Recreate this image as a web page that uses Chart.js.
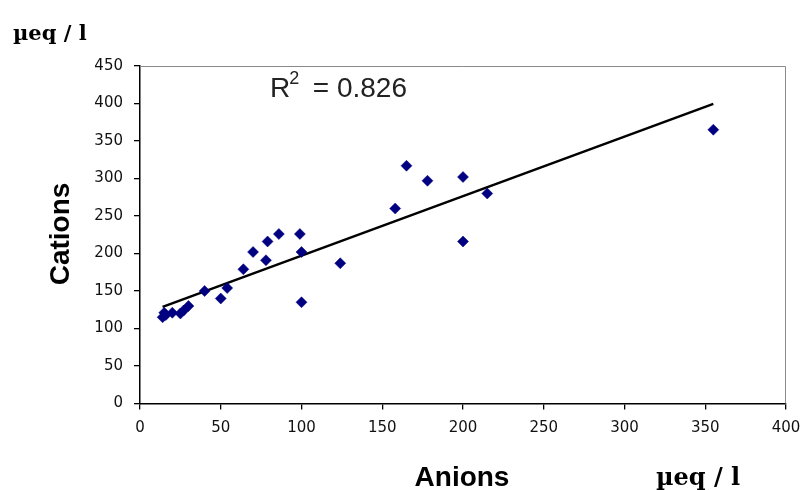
<!DOCTYPE html>
<html>
<head>
<meta charset="utf-8">
<script src="https://cdn.jsdelivr.net/npm/chart.js@4"></script>
<style>
  html, body { margin: 0; padding: 0; background: #fff; }
  #wrap { width: 803px; height: 490px; }
</style>
</head>
<body>
<div id="wrap"><canvas id="chart" width="803" height="490"></canvas></div>
<script>
// Anions vs cations (µeq / l)
const anions = [355, 165, 178, 200, 158, 215, 200, 124, 99, 86, 79, 70, 78, 100, 64, 40, 50, 54, 100, 30, 27, 25, 20, 15, 14, 16];
const cations = [365, 317, 297, 302, 260, 280, 216, 187, 226, 226, 216, 202, 191, 202, 179, 150, 140, 154, 135, 130, 124, 120, 121, 121, 115, 118];
const xTicks = [0, 50, 100, 150, 200, 250, 300, 350, 400];
const yTicks = [0, 50, 100, 150, 200, 250, 300, 350, 400, 450];
const r2Label = "0.826";

// least squares fit for the trend line
function linearFit(xs, ys) {
    const n = xs.length;
    const mx = xs.reduce((a, b) => a + b, 0) / n;
    const my = ys.reduce((a, b) => a + b, 0) / n;
    let sxy = 0, sxx = 0;
    for (let i = 0; i < n; i++) {
        sxy += (xs[i] - mx) * (ys[i] - my);
        sxx += (xs[i] - mx) * (xs[i] - mx);
    }
    const slope = sxy / sxx;
    return { slope, intercept: my - slope * mx };
}

const fit = linearFit(anions, cations);
const xMin = Math.min(...anions);
const xMax = Math.max(...anions);
const trend = [xMin, xMax].map(x => ({ x, y: fit.intercept + fit.slope * x }));

const points = anions.map((x, i) => ({ x, y: cations[i] }));

// frame (top/right) and free text labels
const decorations = {
    id: "decorations",
    beforeDatasetsDraw(chart) {
        const { ctx, chartArea: a } = chart;
        ctx.save();
        ctx.strokeStyle = "#8a8a8a";
        ctx.lineWidth = 1;
        ctx.beginPath();
        ctx.moveTo(a.left, a.top + 0.5);
        ctx.lineTo(a.right - 0.5, a.top + 0.5);
        ctx.lineTo(a.right - 0.5, a.bottom);
        ctx.stroke();
        ctx.restore();
    },
    afterDraw(chart) {
        const ctx = chart.ctx;
        ctx.save();
        ctx.fillStyle = "#000";
        ctx.textBaseline = "alphabetic";

        // unit labels
        ctx.textAlign = "left";
        ctx.font = "bold 21px 'DejaVu Serif'";
        ctx.fillText("µeq / l", 13, 40);
        ctx.font = "bold 24px 'DejaVu Serif'";
        ctx.fillText("µeq / l", 656, 485);

        // axis titles
        ctx.font = "bold 28px 'Liberation Sans', Arial";
        ctx.textAlign = "center";
        ctx.fillText("Anions", 462, 486);
        ctx.save();
        ctx.translate(69, 234);
        ctx.rotate(-Math.PI / 2);
        ctx.fillText("Cations", 0, 0);
        ctx.restore();

        // R² annotation
        ctx.fillStyle = "#222";
        ctx.textAlign = "left";
        ctx.font = "28px 'Liberation Sans', Arial";
        ctx.fillText("R", 270, 97);
        const rw = ctx.measureText("R").width;
        ctx.font = "18px 'Liberation Sans', Arial";
        ctx.fillText("2", 270 + rw - 1, 84);
        ctx.font = "28px 'Liberation Sans', Arial";
        ctx.textAlign = "right";
        ctx.fillText("= " + r2Label, 407, 97);
        ctx.restore();
    }
};

const tickFont = { family: "'DejaVu Sans'", size: 15 };

new Chart(document.getElementById("chart"), {
    type: "scatter",
    data: {
        datasets: [
            {
                label: "Samples",
                data: points,
                pointStyle: "rectRot",
                pointRadius: 5.5,
                pointBackgroundColor: "#000080",
                pointBorderColor: "#000080",
                pointBorderWidth: 0.5,
                order: 1
            },
            {
                type: "line",
                label: "Trend",
                data: trend,
                borderColor: "#000",
                borderWidth: 2.5,
                pointRadius: 0,
                fill: false,
                order: 2
            }
        ]
    },
    options: {
        responsive: false,
        animation: false,
        layout: { padding: { top: 66, right: 17, left: 0, bottom: 0 } },
        plugins: {
            legend: { display: false },
            tooltip: { enabled: false }
        },
        scales: {
            x: {
                type: "linear",
                min: xTicks[0],
                max: xTicks[xTicks.length - 1],
                afterBuildTicks: s => { s.ticks = xTicks.map(v => ({ value: v })); },
                afterFit: s => { s.height = 86.5; s.paddingLeft = 0; s.paddingRight = 0; },
                ticks: { font: tickFont, color: "#111", padding: 10, maxRotation: 0 },
                grid: { drawOnChartArea: false, tickLength: 6, color: "#000", lineWidth: 1.3 },
                border: { color: "#000", width: 1.5 }
            },
            y: {
                type: "linear",
                min: yTicks[0],
                max: yTicks[yTicks.length - 1],
                afterBuildTicks: s => { s.ticks = yTicks.map(v => ({ value: v })); },
                afterFit: s => { s.width = 140; s.paddingTop = 0; s.paddingBottom = 0; },
                ticks: { font: tickFont, color: "#111", padding: 11 },
                grid: { drawOnChartArea: false, tickLength: 6, color: "#000", lineWidth: 1.3 },
                border: { color: "#000", width: 1.5 }
            }
        }
    },
    plugins: [decorations]
});
</script>
</body>
</html>
